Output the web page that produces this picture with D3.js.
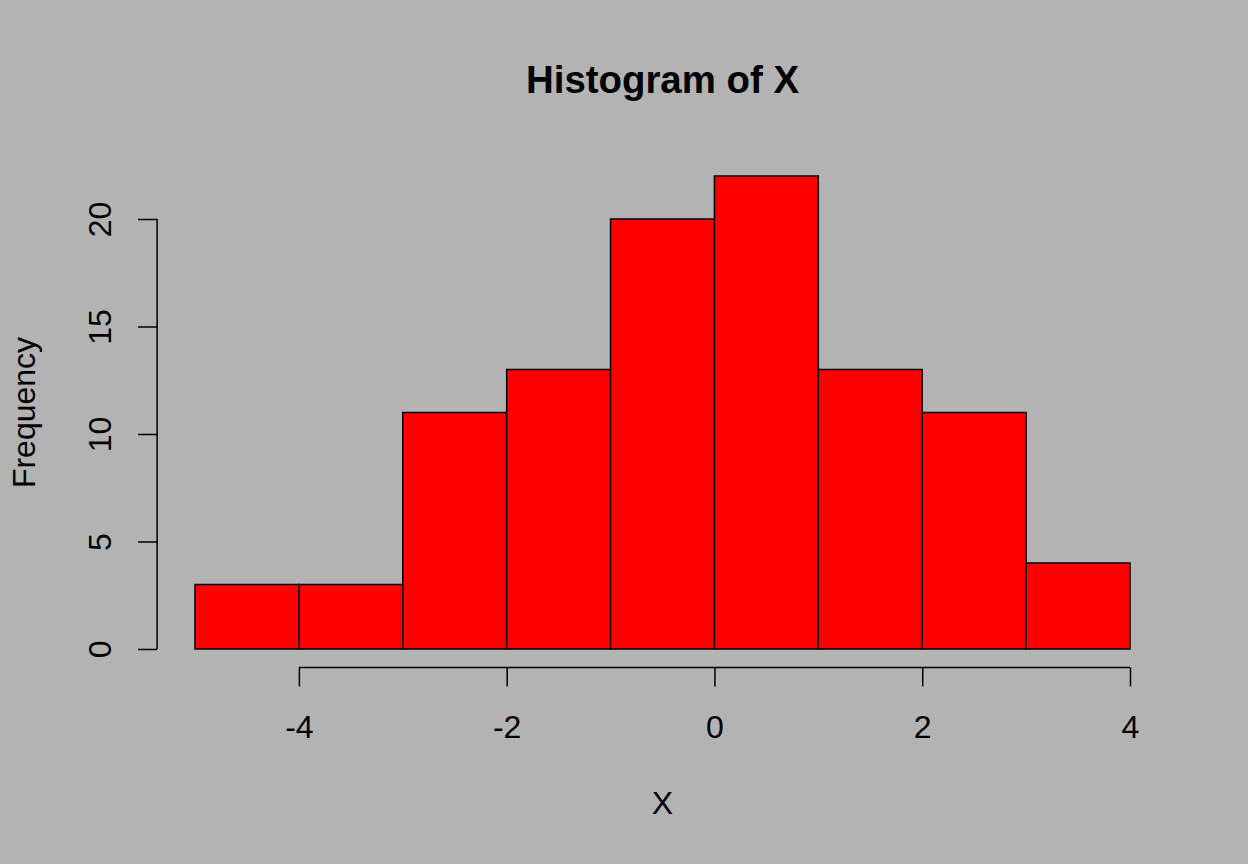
<!DOCTYPE html>
<html>
<head>
<meta charset="utf-8">
<script src="https://cdn.jsdelivr.net/npm/d3@7"></script>
<style>
html,body{margin:0;padding:0;background:#b3b3b3;}
svg{display:block;}
text{font-family:"Liberation Sans",Arial,sans-serif;fill:#000;}
</style>
</head>
<body>
<script>
const binEdges = [-5,-4,-3,-2,-1,0,1,2,3,4];
const counts = [3,3,11,13,20,22,13,11,4];
const xTicks = [-4,-2,0,2,4];
const yTicks = [0,5,10,15,20];
const title = "Histogram of X";
const xLabel = "X";
const yLabel = "Frequency";

const W = 1248, H = 864;
const svg = d3.select("body").append("svg").attr("width", W).attr("height", H);
svg.append("rect").attr("width", W).attr("height", H).attr("fill", "#b3b3b3");

const xr = [-5, 4], xpad = (xr[1]-xr[0])*0.04;
const yr = [0, 22], ypad = (yr[1]-yr[0])*0.04;
const x = d3.scaleLinear().domain([xr[0]-xpad, xr[1]+xpad]).range([157.6, 1167.4]);
const y = d3.scaleLinear().domain([yr[0]-ypad, yr[1]+ypad]).range([667.9, 157.1]);

const bins = counts.map((c,i)=>({x0:binEdges[i], x1:binEdges[i+1], n:c}));
svg.append("g").selectAll("rect").data(bins).join("rect")
  .attr("x", d=>x(d.x0)).attr("width", d=>x(d.x1)-x(d.x0))
  .attr("y", d=>y(d.n)).attr("height", d=>y(0)-y(d.n))
  .attr("fill", "#ff0000").attr("stroke", "#000").attr("stroke-width", 1.5);

const fs = 32, tl = 19;
const fmt = d => String(d);
// x axis
const xa = svg.append("g").attr("transform", `translate(0,${y(yr[0]-ypad)-0.5})`)
  .call(d3.axisBottom(x).tickValues(xTicks).tickFormat(fmt).tickSizeInner(tl).tickSizeOuter(0).tickPadding(14));
xa.select(".domain").attr("d", `M${x(xTicks[0])},0H${x(xTicks[xTicks.length-1])}`);
xa.selectAll("line,path").attr("stroke","#000").attr("stroke-width",1.5);
xa.selectAll("text").attr("font-size", fs).attr("font-family","Liberation Sans, Arial, sans-serif").attr("dy", null).attr("y", 71);

// y axis
const ya = svg.append("g").attr("transform", `translate(${x(xr[0]-xpad)-0.5},0)`)
  .call(d3.axisLeft(y).tickValues(yTicks).tickFormat(fmt).tickSizeInner(tl).tickSizeOuter(0));
ya.select(".domain").attr("d", `M0,${y(yTicks[0])}V${y(yTicks[yTicks.length-1])}`);
ya.selectAll("line,path").attr("stroke","#000").attr("stroke-width",1.5);
ya.selectAll(".tick text").attr("font-size", fs).attr("font-family","Liberation Sans, Arial, sans-serif")
  .attr("x", null).attr("dy", null).attr("text-anchor","middle")
  .attr("transform", "translate(-46,0) rotate(-90)");

// title
svg.append("text").attr("x", (x.range()[0]+x.range()[1])/2).attr("y", 93)
  .attr("text-anchor","middle").attr("font-size", 38.4).attr("font-weight","bold").text(title);
// x label
svg.append("text").attr("x", (x.range()[0]+x.range()[1])/2).attr("y", 814)
  .attr("text-anchor","middle").attr("font-size", fs).text(xLabel);
// y label
svg.append("text").attr("transform", `translate(35,${(y.range()[0]+y.range()[1])/2}) rotate(-90)`)
  .attr("text-anchor","middle").attr("font-size", fs).text(yLabel);
</script>
</body>
</html>
